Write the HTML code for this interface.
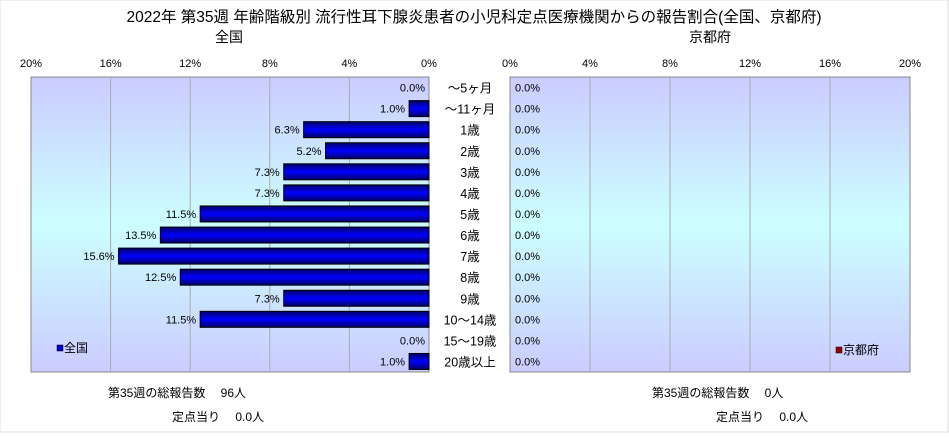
<!DOCTYPE html>
<html><head><meta charset="utf-8"><style>
body{margin:0;background:#fff;width:949px;height:433px;overflow:hidden;font-family:"Liberation Sans","Noto Sans CJK JP",sans-serif;}
text{font-family:"Liberation Sans","Noto Sans CJK JP",sans-serif;}
</style></head><body>
<svg id="chart" width="949" height="433">
<defs>
<linearGradient id="bg" x1="0" y1="0" x2="0" y2="1">
<stop offset="0" stop-color="#ccccff"/><stop offset="0.5" stop-color="#ccffff"/><stop offset="1" stop-color="#ccccff"/>
</linearGradient>
<linearGradient id="bar" x1="0" y1="0" x2="0" y2="1">
<stop offset="0" stop-color="#000066"/><stop offset="0.5" stop-color="#0000ff"/><stop offset="1" stop-color="#000066"/>
</linearGradient>
</defs>
<rect x="0" y="0" width="948" height="432" fill="#fff" stroke="#ddd"/>
<text x="474" y="22" text-anchor="middle" font-size="15.5">2022年 第35週 年齢階級別 流行性耳下腺炎患者の小児科定点医療機関からの報告割合(全国、京都府)</text>
<text x="229" y="42" text-anchor="middle" font-size="14">全国</text>
<text x="710" y="42" text-anchor="middle" font-size="14">京都府</text>
<rect x="31" y="77" width="398" height="295" fill="url(#bg)" stroke="#888"/>
<rect x="510" y="77" width="400" height="295" fill="url(#bg)" stroke="#888"/>
<g id="g"></g>
<rect x="57" y="345" width="6" height="6" fill="#0000cc" stroke="#000" stroke-width="0.5"/>
<text x="64" y="352" font-size="12">全国</text>
<rect x="836" y="347" width="6" height="6" fill="#990000" stroke="#000" stroke-width="0.5"/>
<text x="843" y="354" font-size="12">京都府</text>
<text x="108" y="397" font-size="12">第35週の総報告数　 96人</text>
<text x="172" y="421" font-size="12">定点当り　 0.0人</text>
<text x="652" y="397" font-size="12">第35週の総報告数　 0人</text>
<text x="716" y="421" font-size="12">定点当り　 0.0人</text>
</svg>
<script>
const categories=["～5ヶ月","～11ヶ月","1歳","2歳","3歳","4歳","5歳","6歳","7歳","8歳","9歳","10～14歳","15～19歳","20歳以上"];
const nationalValues=[0.0,1.0,6.3,5.2,7.3,7.3,11.5,13.5,15.6,12.5,7.3,11.5,0.0,1.0];
const kyotoValues=[0,0,0,0,0,0,0,0,0,0,0,0,0,0];
const tickValues=[0,4,8,12,16,20];
const ns="http://www.w3.org/2000/svg";
const g=document.getElementById('g');
const top0=77,plotH=295,rowH=plotH/categories.length;
const xL=v=>429-v*398/20, xR=v=>510+v*400/20, yC=i=>top0+rowH*(i+0.5);
function mk(t,a){const e=document.createElementNS(ns,t);for(const k in a)e.setAttribute(k,a[k]);g.appendChild(e);return e;}
tickValues.forEach(t=>{
 if(t>0&&t<20){
  const l1=mk('line',{x1:xL(t),x2:xL(t),y1:78,y2:371,stroke:'#aaa'});
  
  
  const l2=mk('line',{x1:xR(t),x2:xR(t),y1:78,y2:371,stroke:'#aaa'});
  
  
 }
 const a=mk('text',{x:xL(t),y:67,'text-anchor':'middle','font-size':11});a.textContent=t+'%';
 
 
 const b=mk('text',{x:xR(t),y:67,'text-anchor':'middle','font-size':11});b.textContent=t+'%';
 
 
});
categories.forEach((c,i)=>{
 const y=yC(i);
 const lab=mk('text',{x:470,y:y+5,'text-anchor':'middle','font-size':12.5});lab.textContent=c;
 
 
 const v=nationalValues[i];
 if(v>0){
  const r=mk('rect',{x:xL(v),y:y-8,width:429-xL(v),height:16,fill:'url(#bar)',stroke:'#000'});
  
  
 }
 const t=mk('text',{x:xL(v)-4,y:y+4,'text-anchor':'end','font-size':11});t.textContent=v.toFixed(1)+'%';
 
 
 const k=kyotoValues[i];
 if(k>0){
  const r2=mk('rect',{x:510,y:y-8,width:xR(k)-510,height:16,fill:'#990000',stroke:'#000'});
  
  
 }
 const t2=mk('text',{x:xR(k)+5,y:y+4,'font-size':11});t2.textContent=k.toFixed(1)+'%';
 
 
});
</script>
</body></html>
